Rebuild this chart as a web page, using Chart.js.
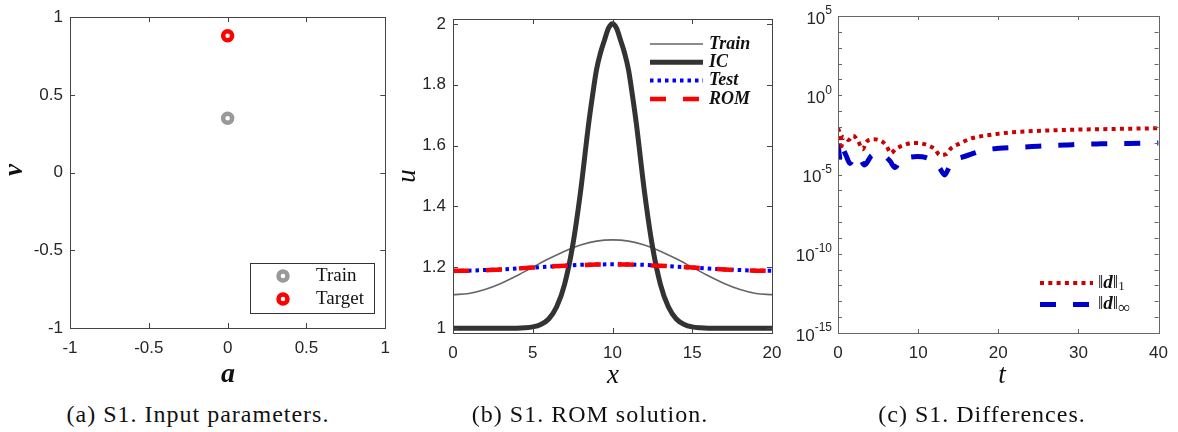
<!DOCTYPE html>
<html>
<head>
<meta charset="utf-8">
<script src="https://cdn.jsdelivr.net/npm/chart.js@4.4.1/dist/chart.umd.min.js"></script>
<style>
  body { margin: 0; background: #fff; width: 1178px; height: 432px; overflow: hidden; position: relative; }
  canvas { position: absolute; top: 0; }
  .lab { position: absolute; font-family: "Liberation Serif", serif; font-style: italic; color: #111;
         transform: translate(-50%, -50%); white-space: nowrap; line-height: 1; }
  .rot { transform: translate(-50%, -50%) rotate(-90deg); }
  .cap { position: absolute; top: 402px; font: 24px "Liberation Serif", serif; letter-spacing: 1px;
         transform: translateX(-50%); white-space: nowrap; line-height: 1; color: #111; }
</style>
</head>
<body>
<canvas id="pa" width="400" height="395" style="left:0"></canvas>
<canvas id="pb" width="395" height="395" style="left:400px"></canvas>
<canvas id="pc" width="388" height="395" style="left:790px"></canvas>

<div class="lab rot" style="left:13px;top:170px;font-size:27px;font-weight:bold">ν</div>
<div class="lab" style="left:228px;top:373px;font-size:28px;font-weight:bold">a</div>
<div class="lab rot" style="left:406px;top:176px;font-size:27px">u</div>
<div class="lab" style="left:613px;top:374px;font-size:27px">x</div>
<div class="lab" style="left:1002px;top:374px;font-size:27px">t</div>

<div class="cap" style="left:198px">(a) S1. Input parameters.</div>
<div class="cap" style="left:590px">(b) S1. ROM solution.</div>
<div class="cap" style="left:982px">(c) S1. Differences.</div>

<script>
// (a) input parameters
const trainPts = [{x: 0, y: 0.35}];
const targetPts = [{x: 0, y: 0.88}];
const aTicks = [-1, -0.5, 0, 0.5, 1];

// (b) ROM solution
const xGrid = [0, 1, 2, 3, 4, 5, 6, 7, 8, 9, 10, 11, 12, 13, 14, 15, 16, 17, 18, 19, 20];
const trainU = [1.110, 1.114, 1.127, 1.147, 1.172, 1.200, 1.228, 1.253, 1.273, 1.286, 1.290,
                1.286, 1.273, 1.253, 1.228, 1.200, 1.172, 1.147, 1.127, 1.114, 1.110];
const testU = [1.189, 1.189, 1.191, 1.193, 1.196, 1.199, 1.202, 1.205, 1.208, 1.209, 1.210,
               1.209, 1.208, 1.205, 1.202, 1.199, 1.196, 1.193, 1.191, 1.189, 1.189];
const romU = [1.188, 1.189, 1.190, 1.193, 1.196, 1.199, 1.202, 1.205, 1.207, 1.209, 1.209,
              1.209, 1.207, 1.205, 1.202, 1.199, 1.196, 1.193, 1.190, 1.189, 1.188];
const icX = [0, 1, 2, 3, 4, 4.5, 5, 5.5, 6, 6.5, 7, 7.5, 8, 8.5, 8.75, 9, 9.25, 9.5, 9.75, 10,
             10.25, 10.5, 10.75, 11, 11.25, 11.5, 12, 12.5, 13, 13.5, 14, 14.5, 15, 15.5, 16, 17, 18, 19, 20];
const icU = [1, 1, 1, 1, 1, 1.001, 1.004, 1.012, 1.03, 1.07, 1.145, 1.27, 1.45, 1.67, 1.765, 1.85, 1.905,
             1.947, 1.986, 2.0,
             1.986, 1.947, 1.905, 1.85, 1.765, 1.67, 1.45, 1.27, 1.145, 1.07, 1.03, 1.012, 1.004, 1.001,
             1, 1, 1, 1, 1];
const xTicksB = [0, 5, 10, 15, 20];
const uTicks = [1, 1.2, 1.4, 1.6, 1.8, 2];

// (c) differences
const tD1 = [0, 0.3, 0.45, 0.6, 0.9, 1.3, 1.9, 2.5, 3.1, 3.5, 4.4, 5.4, 6.0, 6.6, 7.2, 8.25, 9.3, 10.3,
             11.3, 12.1, 12.7, 13.5, 14.1, 15.2, 16.5, 17.7, 19.8, 21.8, 25.9, 29.9, 34, 40];
const d1 = [8.3e-3, 2.8e-3, 6e-4, 2.4e-3, 2.1e-3, 1.5e-3, 2.8e-3, 1.3e-3, 3.9e-4, 1.07e-3, 1.7e-3, 1.3e-3,
            7.2e-4, 2.2e-4, 4.1e-4, 7.2e-4, 9.8e-4, 9.3e-4, 6.6e-4, 3.9e-4, 1.7e-4, 1.9e-4, 4.5e-4, 9e-4,
            1.8e-3, 2.5e-3, 3.6e-3, 4.6e-3, 5.9e-3, 6.8e-3, 7.4e-3, 8.3e-3];
const tDinf = [0, 0.3, 0.5, 1.0, 1.5, 2.1, 2.6, 3.3, 4.2, 5.0, 5.8, 6.5, 7.1, 7.8, 8.8, 9.9, 11.0, 11.9,
               12.7, 13.3, 14.0, 14.5, 15.4, 16.3, 18.3, 20.1, 22.4, 24.2, 26.2, 28.3, 30.3, 32.3, 34.4,
               36.2, 38.5, 40];
const dInf = [9.3e-4, 7.9e-5, 4.5e-4, 1.6e-4, 5e-5, 1.5e-4, 1.35e-4, 4.0e-5, 1.6e-4, 2.0e-4, 1.5e-4, 7e-5,
              2.8e-5, 8.3e-5, 1.2e-4, 1.35e-4, 1.15e-4, 6.5e-5, 2.5e-5, 9.3e-6, 4e-5, 8.3e-5, 1.2e-4,
              1.7e-4, 3.5e-4, 4.5e-4, 5.2e-4, 5.8e-4, 6.6e-4, 7.2e-4, 8.1e-4, 8.5e-4, 8.9e-4, 9.1e-4,
              9.5e-4, 9.8e-4];
const tTicks = [0, 10, 20, 30, 40];
const decadeTicks = [1e-15, 1e-14, 1e-13, 1e-12, 1e-11, 1e-10, 1e-9, 1e-8, 1e-7, 1e-6, 1e-5,
                     1e-4, 1e-3, 1e-2, 1e-1, 1, 1e1, 1e2, 1e3, 1e4, 1e5];
const expLabels = [-15, -10, -5, 0, 5];

const zip = (xs, ys) => xs.map((x, i) => ({x: x, y: ys[i]}));

Chart.defaults.font.family = '"Liberation Sans", Arial, sans-serif';
Chart.defaults.font.size = 17;
Chart.defaults.color = '#262626';
Chart.defaults.animation = false;

// box round the plot plus inward tick marks on all four sides
const boxPlugin = {
  id: 'box',
  afterDraw(chart, args, o) {
    const ctx = chart.ctx, a = chart.chartArea, len = o.len || 5;
    const xs = chart.scales.x, ys = chart.scales.y;
    ctx.save();
    ctx.strokeStyle = o.color || '#444';
    ctx.lineWidth = 1;
    ctx.beginPath();
    xs.ticks.forEach(t => {
      const p = Math.round(xs.getPixelForValue(t.value)) + 0.5;
      ctx.moveTo(p, a.bottom); ctx.lineTo(p, a.bottom - len);
      ctx.moveTo(p, a.top); ctx.lineTo(p, a.top + len);
    });
    ys.ticks.forEach(t => {
      const p = Math.round(ys.getPixelForValue(t.value)) + 0.5;
      ctx.moveTo(a.left, p); ctx.lineTo(a.left + len, p);
      ctx.moveTo(a.right, p); ctx.lineTo(a.right - len, p);
    });
    ctx.stroke();
    ctx.strokeRect(Math.round(a.left) + 0.5, Math.round(a.top) + 0.5, Math.round(a.width), Math.round(a.height));
    ctx.restore();
  }
};

// legend drawn inside the plot area
const keyPlugin = {
  id: 'key',
  afterDraw(chart, args, o) {
    const ctx = chart.ctx;
    ctx.save();
    if (o.frame) {
      const [fx, fy, fw, fh] = o.frame;
      ctx.fillStyle = '#fff';
      ctx.fillRect(fx, fy, fw, fh);
      ctx.strokeStyle = '#333';
      ctx.lineWidth = 1;
      ctx.strokeRect(fx + 0.5, fy + 0.5, fw, fh);
    }
    chart.data.datasets.forEach((ds, i) => {
      const y = o.y + i * o.row;
      if (o.marker) {
        ctx.beginPath();
        ctx.arc(o.x1, y, ds.pointRadius, 0, Math.PI * 2);
        ctx.fillStyle = ds.pointBackgroundColor;
        ctx.fill();
        ctx.lineWidth = ds.pointBorderWidth;
        ctx.strokeStyle = ds.pointBorderColor;
        ctx.stroke();
      } else {
        ctx.beginPath();
        ctx.setLineDash(ds.borderDash || []);
        ctx.lineWidth = ds.borderWidth;
        ctx.strokeStyle = ds.borderColor;
        ctx.moveTo(o.x1, y);
        ctx.lineTo(o.x2, y);
        ctx.stroke();
        ctx.setLineDash([]);
      }
      ctx.fillStyle = '#111';
      ctx.textBaseline = 'middle';
      ctx.textAlign = 'left';
      const parts = o.parts ? o.parts[i] : [[ds.label, o.font, 0]];
      let x = o.tx;
      parts.forEach(([txt, font, dy]) => {
        ctx.font = font;
        ctx.fillText(txt, x, y + dy);
        x += ctx.measureText(txt).width;
      });
    });
    ctx.restore();
  }
};

// 10^n labels for the log axis
const powPlugin = {
  id: 'pow',
  afterDraw(chart) {
    const ctx = chart.ctx, ys = chart.scales.y, right = chart.chartArea.left - 6;
    ctx.save();
    ctx.fillStyle = '#262626';
    ctx.textBaseline = 'middle';
    ctx.textAlign = 'left';
    expLabels.forEach(e => {
      const y = ys.getPixelForValue(decadeTicks[e + 15]);
      const ex = String(e);
      ctx.font = '17px "Liberation Sans", Arial, sans-serif';
      const w1 = ctx.measureText('10').width;
      ctx.font = '12px "Liberation Sans", Arial, sans-serif';
      const w2 = ctx.measureText(ex).width;
      const x0 = right - w1 - w2;
      ctx.font = '17px "Liberation Sans", Arial, sans-serif';
      ctx.fillText('10', x0, y + 3);
      ctx.font = '12px "Liberation Sans", Arial, sans-serif';
      ctx.fillText(ex, x0 + w1, y - 5);
    });
    ctx.restore();
  }
};

function linAxis(min, max, ticks, size, isY, pad) {
  return {
    type: 'linear', min: min, max: max,
    grid: {display: false, drawTicks: false}, border: {display: false},
    ticks: {padding: pad, callback: v => String(v)},
    afterBuildTicks: s => { s.ticks = ticks.map(v => ({value: v})); },
    afterFit: s => { if (isY) s.width = size; else s.height = size; }
  };
}

const lineDs = (label, xs, ys, color, width, dash) => ({
  label: label, data: zip(xs, ys), borderColor: color, borderWidth: width, borderDash: dash,
  borderCapStyle: 'butt', borderJoinStyle: 'round', pointRadius: 0, fill: false,
  cubicInterpolationMode: 'monotone'
});

// panel (a)
new Chart(document.getElementById('pa'), {
  type: 'scatter',
  data: {
    datasets: [
      {label: 'Train', data: trainPts, pointRadius: 4.5, pointBorderWidth: 4.5,
       pointBorderColor: '#999999', pointBackgroundColor: '#ffffff'},
      {label: 'Target', data: targetPts, pointRadius: 4.5, pointBorderWidth: 4.5,
       pointBorderColor: '#ff0000', pointBackgroundColor: '#ffffff'}
    ]
  },
  options: {
    responsive: false, devicePixelRatio: 1,
    layout: {padding: {left: 0, top: 10, right: 13, bottom: 0}},
    plugins: {
      legend: {display: false}, tooltip: {enabled: false},
      box: {color: '#444', len: 5},
      key: {marker: true, frame: [250, 263, 124, 50], x1: 283, tx: 316, y: 276, row: 23,
            font: '19px "Liberation Serif", serif'}
    },
    scales: {
      x: linAxis(-1, 1, aTicks, 67, false, 10),
      y: linAxis(-1, 1, aTicks, 70, true, 7)
    }
  },
  plugins: [boxPlugin, keyPlugin]
});

// panel (b)
new Chart(document.getElementById('pb'), {
  type: 'line',
  data: {
    datasets: [
      Object.assign(lineDs('Train', xGrid, trainU, '#666666', 1.6, []), {order: 4}),
      Object.assign(lineDs('IC', icX, icU, '#333333', 5, []), {order: 3}),
      Object.assign(lineDs('Test', xGrid, testU, '#0000ff', 4, [3.5, 4]), {order: 2}),
      Object.assign(lineDs('ROM', xGrid, romU, '#ff0000', 4.5, [16, 17]), {order: 1})
    ]
  },
  options: {
    responsive: false, devicePixelRatio: 1,
    layout: {padding: {left: 0, top: 19, right: 23, bottom: 0}},
    plugins: {
      legend: {display: false}, tooltip: {enabled: false},
      box: {color: '#444', len: 5},
      key: {x1: 250, x2: 303, tx: 309, y: 44, row: 18.3,
            font: 'bold italic 18px "Liberation Serif", serif'}
    },
    scales: {
      x: linAxis(0, 20, xTicksB, 62, false, 10),
      y: linAxis(0.984, 2.016, uTicks, 53, true, 7)
    }
  },
  plugins: [boxPlugin, keyPlugin]
});

// panel (c)
const nrm = '19px "Liberation Serif", serif';
const itl = 'bold italic 19px "Liberation Serif", serif';
const sub = '13px "Liberation Serif", serif';
new Chart(document.getElementById('pc'), {
  type: 'line',
  data: {
    datasets: [
      lineDs('‖d‖1', tD1, d1, '#cc0000', 4, [4, 4.3]),
      lineDs('‖d‖∞', tDinf, dInf, '#0000cc', 5, [16, 17])
    ]
  },
  options: {
    responsive: false, devicePixelRatio: 1,
    layout: {padding: {left: 0, top: 16, right: 12, bottom: 0}},
    plugins: {
      legend: {display: false}, tooltip: {enabled: false},
      box: {color: '#666', len: 4},
      key: {x1: 250, x2: 303, tx: 308, y: 283, row: 21.5,
            parts: [
              [['‖', nrm, 0], ['d', itl, 0], ['‖', nrm, 0], ['1', sub, 4]],
              [['‖', nrm, 0], ['d', itl, 0], ['‖', nrm, 0], ['∞', '17px "Liberation Serif", serif', 4]]
            ]}
    },
    scales: {
      x: linAxis(0, 40, tTicks, 62, false, 10),
      y: {
        type: 'logarithmic', min: 1e-15, max: 1e5,
        grid: {display: false, drawTicks: false}, border: {display: false},
        ticks: {display: false},
        afterBuildTicks: s => { s.ticks = decadeTicks.map(v => ({value: v})); },
        afterFit: s => { s.width = 48; }
      }
    }
  },
  plugins: [boxPlugin, keyPlugin, powPlugin]
});
</script>
</body>
</html>
